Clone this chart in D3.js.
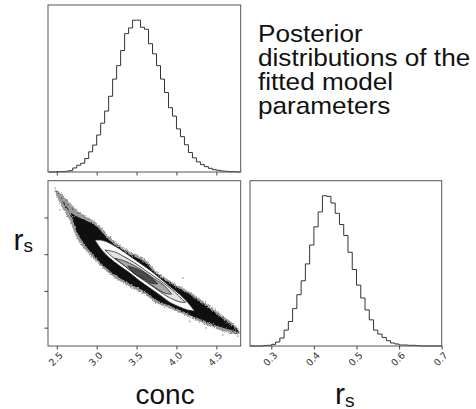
<!DOCTYPE html>
<html>
<head>
<meta charset="utf-8">
<script src="https://d3js.org/d3.v7.min.js"></script>
<style>
  body { margin: 0; background: #fff; }
  text { font-family: "Liberation Sans", Arial, sans-serif; }
  .tick-label { font-family: "DejaVu Sans", sans-serif; font-size: 9.5px; fill: #333; }
</style>
</head>
<body>
<div id="chart"></div>
<script>
// ---- data ----
const concBinStart = 2.40;
const concBinWidth = 0.05;
const concCounts = [0,0,1,1,2,4,12,20,26,40,60,80,110,145,181,225,276,316,361,411,428,451,451,430,424,
  381,351,316,276,236,191,166,128,105,81,58,42,30,22,16,11,7,5,3,2,1,1,0];

const rsBinStart = 0.25;
const rsBinWidth = 0.01;
const rsCounts = [0,0,0,1,2,5,12,24,48,74,113,155,197,248,305,360,405,454,452,432,401,367,334,283,231,
  184,145,109,79,48,36,26,16,9,6,3,3,2,2,1,0,0,0,0,0];

const concTicks = [2.5, 3.0, 3.5, 4.0, 4.5];
const rsTicks = [0.3, 0.4, 0.5, 0.6, 0.7];

// ridge of the point cloud: conc, centre r_s, half width of dense core, half width of sparse edge
const bandConc = [2.47, 2.54, 2.665, 2.769, 2.978, 3.186, 3.394, 3.603, 3.749, 3.956, 4.165, 4.374, 4.581, 4.749, 4.80];
const bandMid  = [0.675, 0.653, 0.615, 0.577, 0.536, 0.492, 0.462, 0.438, 0.410, 0.386, 0.363, 0.337, 0.312, 0.293, 0.285];
const bandCore = [0, 0, 0, 0.024, 0.043, 0.041, 0.040, 0.040, 0.035, 0.030, 0.027, 0.021, 0.012, 0.003, 0];
const bandHaze = [0, 0.014, 0.024, 0.040, 0.052, 0.050, 0.048, 0.048, 0.043, 0.037, 0.034, 0.029, 0.021, 0.011, 0];

// stray points outside the dense band
const strayConc = [2.478, 2.519, 2.561, 2.624, 2.54, 2.644, 2.769, 2.811, 3.124, 4.081, 4.165, 4.374, 4.581, 4.706, 4.749, 4.771,
  2.50, 2.59, 2.70, 2.72, 4.45, 4.62, 4.68];
const strayRs   = [0.680, 0.666, 0.653, 0.648, 0.621, 0.635, 0.612, 0.526, 0.468, 0.435, 0.317, 0.299, 0.280, 0.290, 0.285, 0.277,
  0.672, 0.640, 0.622, 0.598, 0.338, 0.318, 0.284];

// density contours, outermost first: [conc, upper r_s, lower r_s]
const contourLevels = [
  [[2.978,0.538,0.538],[3.065,0.538,0.511],[3.165,0.530,0.489],[3.29,0.514,0.468],[3.415,0.495,0.449],
   [3.54,0.476,0.427],[3.665,0.457,0.408],[3.79,0.435,0.389],[3.915,0.413,0.369],[4.04,0.391,0.356],
   [4.14,0.369,0.348],[4.228,0.345,0.345]],
  [[3.103,0.511,0.511],[3.228,0.506,0.487],[3.353,0.492,0.468],[3.478,0.476,0.446],[3.603,0.457,0.427],
   [3.728,0.438,0.408],[3.853,0.419,0.389],[3.978,0.397,0.375],[4.065,0.378,0.369],[4.115,0.369,0.369]],
  [[3.228,0.489,0.489],[3.353,0.481,0.468],[3.478,0.468,0.446],[3.603,0.451,0.429],[3.728,0.432,0.410],
   [3.853,0.413,0.394],[3.94,0.391,0.391]],
  [[3.39,0.468,0.468],[3.478,0.462,0.446],[3.603,0.449,0.432],[3.69,0.435,0.421],[3.765,0.419,0.419]]
];
const contourFills = ["#ffffff", "#e4e4e4", "#a9a9a9", "#4a4a4a"];

const titleLines = ["Posterior", "distributions of the", "fitted model", "parameters"];

// ---- layout ----
const width = 476, height = 409;
const tl = {x0: 48, x1: 240.7, y0: 5, y1: 172};
const bl = {x0: 48, x1: 240.7, y0: 180.7, y1: 346};
const br = {x0: 250, x1: 441.7, y0: 180.7, y1: 346};

const svg = d3.select('#chart').append('svg')
  .attr('width', width)
  .attr('height', height);

const defs = svg.append('defs');
defs.append('clipPath').attr('id', 'clipBL')
  .append('rect')
  .attr('x', bl.x0).attr('y', bl.y0)
  .attr('width', bl.x1 - bl.x0).attr('height', bl.y1 - bl.y0);

const rough = defs.append('filter').attr('id', 'rough')
  .attr('x', '-10%').attr('y', '-10%').attr('width', '120%').attr('height', '120%');
rough.append('feTurbulence').attr('type', 'fractalNoise').attr('baseFrequency', 0.9)
  .attr('numOctaves', 2).attr('seed', 3).attr('result', 'noise');
rough.append('feDisplacementMap').attr('in', 'SourceGraphic').attr('in2', 'noise')
  .attr('scale', 3.5).attr('xChannelSelector', 'R').attr('yChannelSelector', 'G');

const xConc = d3.scaleLinear().domain([2.39, 4.805]).range([tl.x0, tl.x1]);
const yRs = d3.scaleLinear().domain([0.25, 0.70]).range([bl.y1, bl.y0]);
const xRs = d3.scaleLinear().domain([0.25, 0.70]).range([br.x0, br.x1]);

function stepPoints(start, binW, counts) {
  const pts = [[start, 0]];
  counts.forEach((c, i) => {
    pts.push([start + i * binW, c]);
    pts.push([start + (i + 1) * binW, c]);
  });
  pts.push([start + counts.length * binW, 0]);
  return pts;
}

function histogram(panel, xScale, start, binW, counts) {
  const y = d3.scaleLinear().domain([0, 1.1 * d3.max(counts)]).range([panel.y1, panel.y0]);
  const line = d3.line().x(d => xScale(d[0])).y(d => y(d[1]));
  svg.append('path')
    .datum(stepPoints(start, binW, counts))
    .attr('d', line)
    .attr('fill', 'none')
    .attr('stroke', '#333')
    .attr('stroke-width', 1);
}

function frame(panel) {
  svg.append('rect')
    .attr('x', panel.x0).attr('y', panel.y0)
    .attr('width', panel.x1 - panel.x0).attr('height', panel.y1 - panel.y0)
    .attr('fill', 'none')
    .attr('stroke', '#555')
    .attr('stroke-width', 1);
}

function bottomAxis(panel, scale, ticks, labels) {
  const g = svg.append('g')
    .attr('transform', `translate(0, ${panel.y1})`)
    .call(d3.axisBottom(scale).tickValues(ticks).tickSize(3.5).tickFormat(''));
  g.select('.domain').remove();
  g.selectAll('line').attr('stroke', '#444');
  if (labels) {
    svg.append('g').selectAll('text')
      .data(ticks)
      .enter()
      .append('text')
      .attr('class', 'tick-label')
      .attr('text-anchor', 'middle')
      .attr('x', d => scale(d) - 1)
      .attr('y', panel.y1 + 13)
      .attr('dy', '0.35em')
      .attr('transform', d => `rotate(-45, ${scale(d) - 1}, ${panel.y1 + 13})`)
      .text(d3.format('.1f'));
  }
}

// ---- top left: conc histogram ----
histogram(tl, xConc, concBinStart, concBinWidth, concCounts);
frame(tl);
bottomAxis(tl, xConc, concTicks, false);

// ---- bottom right: r_s histogram ----
histogram(br, xRs, rsBinStart, rsBinWidth, rsCounts);
frame(br);
bottomAxis(br, xRs, rsTicks, true);

// ---- bottom left: 2d posterior ----
const cloud = svg.append('g').attr('clip-path', 'url(#clipBL)');
const band = bandConc.map((c, i) => ({c: c, m: bandMid[i], core: bandCore[i], haze: bandHaze[i]}));

cloud.selectAll('circle')
  .data(strayConc.map((c, i) => [c, strayRs[i]]))
  .enter()
  .append('circle')
  .attr('cx', d => xConc(d[0]))
  .attr('cy', d => yRs(d[1]))
  .attr('r', 0.8)
  .attr('fill', '#000')
  .attr('opacity', 0.45);

cloud.append('path')
  .datum(band)
  .attr('d', d3.area().curve(d3.curveCatmullRom)
    .x(d => xConc(d.c)).y0(d => yRs(d.m - d.haze)).y1(d => yRs(d.m + d.haze)))
  .attr('fill', '#000')
  .attr('opacity', 0.4)
  .attr('filter', 'url(#rough)');

cloud.append('path')
  .datum(band)
  .attr('d', d3.area().curve(d3.curveCatmullRom)
    .x(d => xConc(d.c)).y0(d => yRs(d.m - d.core)).y1(d => yRs(d.m + d.core)))
  .attr('fill', '#000')
  .attr('opacity', 0.9)
  .attr('filter', 'url(#rough)');

const lens = d3.area().curve(d3.curveCatmullRom)
  .x(d => xConc(d[0])).y0(d => yRs(d[2])).y1(d => yRs(d[1]));

cloud.selectAll('path.level')
  .data(contourLevels)
  .enter()
  .append('path')
  .attr('class', 'level')
  .attr('d', lens)
  .attr('fill', (d, i) => contourFills[i])
  .attr('stroke', '#222')
  .attr('stroke-width', 0.8);

frame(bl);
bottomAxis(bl, xConc, concTicks, true);

const yAx = svg.append('g')
  .attr('transform', `translate(${bl.x0}, 0)`)
  .call(d3.axisLeft(yRs).tickValues([0.3, 0.4, 0.5, 0.6]).tickSize(3.5).tickFormat(''));
yAx.select('.domain').remove();
yAx.selectAll('line').attr('stroke', '#444');

// ---- text ----
svg.append('g').selectAll('text')
  .data(titleLines)
  .enter()
  .append('text')
  .attr('transform', (d, i) => `translate(258, ${41.7 + i * 24.2}) scale(1.09, 1)`)
  .attr('font-size', 24)
  .attr('fill', '#111')
  .text(d => d);

function rsLabel(x, y) {
  const t = svg.append('text').attr('x', x).attr('y', y).attr('font-size', 30).attr('fill', '#111');
  t.append('tspan').text('r');
  t.append('tspan').attr('font-size', 19).attr('dy', 2.5).text('s');
}
rsLabel(13.5, 249.5);
rsLabel(335, 404);

svg.append('text')
  .attr('x', 135.5)
  .attr('y', 404)
  .attr('font-size', 28)
  .attr('fill', '#111')
  .text('conc');
</script>
</body>
</html>
